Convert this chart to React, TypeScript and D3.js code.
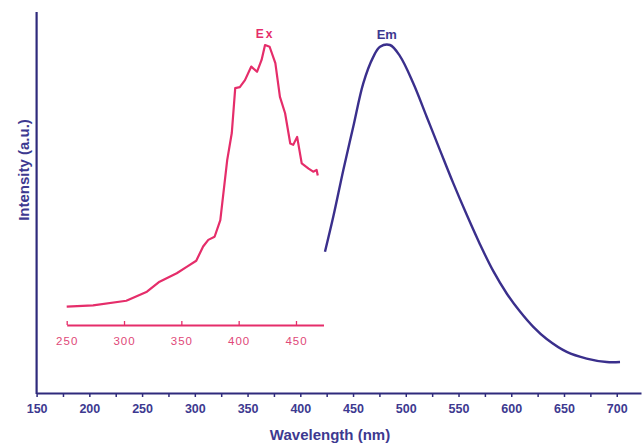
import React, { useRef, useEffect } from "react";
import * as d3 from "d3";

// excitation spectrum (own wavelength axis 250-470 nm)
const exWave = [250, 273, 302, 320, 331, 346, 355, 363, 369, 373.5, 379, 384, 390, 394, 397, 401, 405.5, 411, 416, 420, 423, 427, 432, 436, 440.5, 445, 447.6, 451, 455, 461, 465, 468, 469];
const exIntensity = [0.248, 0.252, 0.265, 0.291, 0.32, 0.344, 0.363, 0.38, 0.421, 0.44, 0.449, 0.497, 0.669, 0.747, 0.876, 0.879, 0.899, 0.938, 0.923, 0.957, 1.0, 0.995, 0.948, 0.851, 0.804, 0.717, 0.713, 0.736, 0.66, 0.645, 0.636, 0.641, 0.625];

// emission spectrum (main wavelength axis)
const emWave = [423.4, 431.3, 440.8, 450.2, 459.7, 469.2, 475.6, 485, 494.5, 507.1, 519.8, 532.4, 545, 557.8, 570.4, 583, 595.7, 608.3, 620.9, 633.6, 652.6, 671.5, 690.5, 703.1];
const emIntensity = [0.406, 0.507, 0.641, 0.765, 0.89, 0.966, 0.995, 1.0, 0.968, 0.89, 0.794, 0.698, 0.603, 0.512, 0.427, 0.35, 0.286, 0.234, 0.19, 0.155, 0.118, 0.099, 0.089, 0.089];

const mainTicks = d3.range(150, 701, 25);
const exTicks = [250, 300, 350, 400, 450];

const navy = "#2f2a7c";
const pink = "#e52d6a";

const App: React.FC = () => {
  const svgRef = useRef<SVGSVGElement | null>(null);

  useEffect(() => {
    document.body.style.margin = "0";
    if (!svgRef.current) return;
    const svg = d3.select(svgRef.current);
    svg.selectAll("*").remove();

    const x = d3.scaleLinear().domain([150, 723]).range([36.6, 641]);
    const xEx = d3.scaleLinear().domain([250, 474]).range([66.7, 323.5]);
    const y = d3.scaleLinear().domain([0, 1]).range([393, 45]);

    // main x axis
    const xAxis = svg
      .append("g")
      .attr("transform", "translate(0,393)")
      .call(
        d3
          .axisBottom(x)
          .tickValues(mainTicks)
          .tickSize(4)
          .tickSizeOuter(0)
          .tickFormat((d) => ((d as number) % 50 === 0 ? String(d) : ""))
      );
    xAxis.select(".domain").attr("stroke", navy).attr("stroke-width", 2.2);
    xAxis.selectAll(".tick line").attr("stroke", navy).attr("stroke-width", 1.5);
    xAxis
      .selectAll(".tick text")
      .attr("y", 11)
      .attr("fill", "#3d3990")
      .attr("font-family", "Liberation Sans, Arial, sans-serif")
      .attr("font-weight", "bold")
      .attr("font-size", 12.5);

    // y axis line
    svg
      .append("line")
      .attr("x1", x(150))
      .attr("x2", x(150))
      .attr("y1", 12)
      .attr("y2", 394)
      .attr("stroke", navy)
      .attr("stroke-width", 2.2);

    // excitation inner axis
    const exAxis = svg
      .append("g")
      .attr("transform", "translate(0,325)")
      .call(d3.axisTop(xEx).tickValues(exTicks).tickSize(4).tickSizeOuter(0).tickFormat(d3.format("d")));
    exAxis.select(".domain").attr("stroke", pink).attr("stroke-width", 1.8);
    exAxis.selectAll(".tick line").attr("stroke", pink).attr("stroke-width", 1.3);
    exAxis
      .selectAll(".tick text")
      .attr("y", 20)
      .attr("fill", "#e04878")
      .attr("font-family", "Liberation Sans, Arial, sans-serif")
      .attr("font-size", 11.5)
      .attr("letter-spacing", 1);

    // curves
    const exLine = d3
      .line<number>()
      .x((d, i) => xEx(exWave[i]))
      .y((d) => y(d));
    svg
      .append("path")
      .attr("d", exLine(exIntensity) as string)
      .attr("fill", "none")
      .attr("stroke", pink)
      .attr("stroke-width", 2.2)
      .attr("stroke-linejoin", "round");

    const emLine = d3
      .line<number>()
      .x((d, i) => x(emWave[i]))
      .y((d) => y(d))
      .curve(d3.curveCatmullRom);
    svg
      .append("path")
      .attr("d", emLine(emIntensity) as string)
      .attr("fill", "none")
      .attr("stroke", "#3a2f8c")
      .attr("stroke-width", 2.4);

    // curve labels
    svg
      .append("text")
      .attr("x", xEx(423))
      .attr("y", 38)
      .attr("text-anchor", "middle")
      .attr("fill", pink)
      .attr("font-family", "Liberation Sans, Arial, sans-serif")
      .attr("font-weight", "bold")
      .attr("font-size", 12)
      .attr("letter-spacing", 2)
      .text("Ex");
    svg
      .append("text")
      .attr("x", x(482))
      .attr("y", 39)
      .attr("text-anchor", "middle")
      .attr("fill", "#3d3990")
      .attr("font-family", "Liberation Sans, Arial, sans-serif")
      .attr("font-weight", "bold")
      .attr("font-size", 13)
      .text("Em");

    // axis titles
    svg
      .append("text")
      .attr("x", 330)
      .attr("y", 440)
      .attr("text-anchor", "middle")
      .attr("fill", "#3d3990")
      .attr("font-family", "Liberation Sans, Arial, sans-serif")
      .attr("font-weight", "bold")
      .attr("font-size", 15)
      .text("Wavelength (nm)");
    svg
      .append("text")
      .attr("transform", "translate(29,170) rotate(-90)")
      .attr("text-anchor", "middle")
      .attr("fill", "#3d3990")
      .attr("font-family", "Liberation Sans, Arial, sans-serif")
      .attr("font-weight", "bold")
      .attr("font-size", 15)
      .text("Intensity (a.u.)");
  }, []);

  return (
    <div style={{ width: 642, height: 445 }}>
      <svg ref={svgRef} width={642} height={445} style={{ display: "block", background: "#fff" }}></svg>
    </div>
  );
};

export default App;
